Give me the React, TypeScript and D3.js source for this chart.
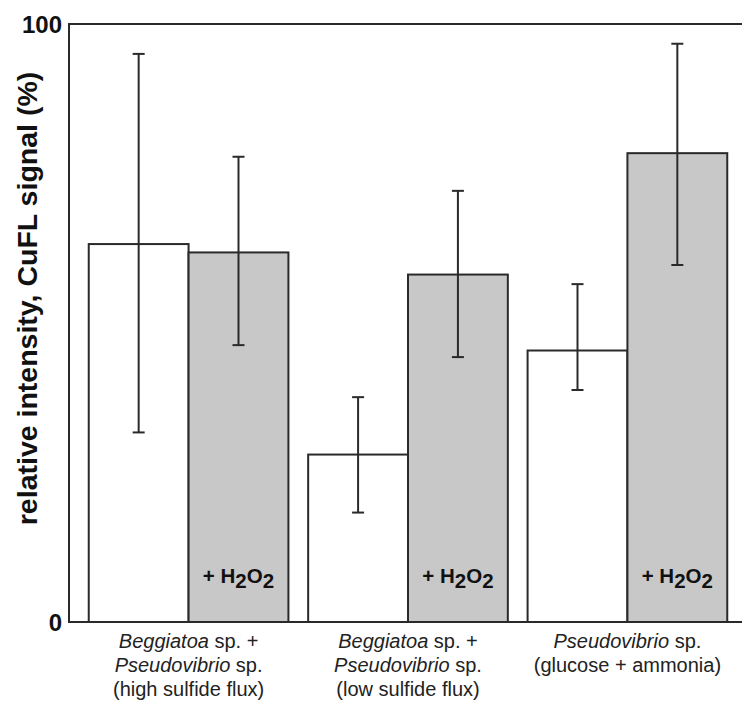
import React from "react";
import * as d3 from "d3";

const groups = ["high", "low", "glucose"];
const categoryLines: { text: string; italic: boolean }[][][] = [
  [
    [{ text: "Beggiatoa", italic: true }, { text: " sp. +", italic: false }],
    [{ text: "Pseudovibrio", italic: true }, { text: " sp.", italic: false }],
    [{ text: "(high sulfide flux)", italic: false }],
  ],
  [
    [{ text: "Beggiatoa", italic: true }, { text: " sp. +", italic: false }],
    [{ text: "Pseudovibrio", italic: true }, { text: " sp.", italic: false }],
    [{ text: "(low sulfide flux)", italic: false }],
  ],
  [
    [{ text: "Pseudovibrio", italic: true }, { text: " sp.", italic: false }],
    [{ text: "(glucose + ammonia)", italic: false }],
  ],
];
const series = ["control", "h2o2"];
const controlValues = [63.2, 28.0, 45.4];
const controlErrLow = [31.7, 18.3, 38.8];
const controlErrHigh = [95.0, 37.6, 56.5];
const h2o2Values = [61.8, 58.1, 78.4];
const h2o2ErrLow = [46.3, 44.3, 59.7];
const h2o2ErrHigh = [77.8, 72.1, 96.7];
const yTicks = [0, 100];
const yLabel = "relative intensity, CuFL signal (%)";

const W = 742;
const H = 702;
const left = 69;
const top = 24;
const bottom = 622;
const FONT = "'Liberation Sans', Arial, Helvetica, sans-serif";

export default function App() {
  const y = d3.scaleLinear().domain([0, 100]).range([bottom, top]);
  const x0 = d3
    .scaleBand<string>()
    .domain(groups)
    .range([left, 747])
    .paddingInner(0.09)
    .paddingOuter(0.09);
  const x1 = d3.scaleBand<string>().domain(series).range([0, x0.bandwidth()]);

  const data = groups.map((g, i) => ({
    g,
    i,
    bars: [
      { s: "control", v: controlValues[i], lo: controlErrLow[i], hi: controlErrHigh[i], fill: "#ffffff" },
      { s: "h2o2", v: h2o2Values[i], lo: h2o2ErrLow[i], hi: h2o2ErrHigh[i], fill: "#c8c8c8" },
    ],
  }));

  const stroke = "#2a2a2a";
  const cap = 6;

  return (
    <svg
      width={W}
      height={H}
      style={{ position: "absolute", left: 0, top: 0, background: "#fff" }}
      fontFamily={FONT}
    >
      <rect x={0} y={0} width={W} height={H} fill="#fff" />
      {data.map((d) => (
        <g key={d.g} transform={`translate(${x0(d.g)},0)`}>
          {d.bars.map((b) => (
            <rect
              key={b.s}
              x={x1(b.s)!}
              y={y(b.v)}
              width={x1.bandwidth()}
              height={y(0) - y(b.v)}
              fill={b.fill}
              stroke={stroke}
              strokeWidth={2}
            />
          ))}
        </g>
      ))}
      {data.map((d) => (
        <g key={d.g + "e"} transform={`translate(${x0(d.g)},0)`}>
          {d.bars.map((b) => {
            const cx = x1(b.s)! + x1.bandwidth() / 2;
            return (
              <g key={b.s} stroke={stroke} strokeWidth={2}>
                <line x1={cx} x2={cx} y1={y(b.lo)} y2={y(b.hi)} />
                <line x1={cx - cap} x2={cx + cap} y1={y(b.lo)} y2={y(b.lo)} />
                <line x1={cx - cap} x2={cx + cap} y1={y(b.hi)} y2={y(b.hi)} />
              </g>
            );
          })}
          <text
            x={x1("h2o2")! + x1.bandwidth() / 2}
            y={y(0) - 39}
            textAnchor="middle"
            fontWeight="bold"
            fontSize={20.5}
            fill="#111"
          >
            <tspan>+ H</tspan>
            <tspan dy={4.5}>2</tspan>
            <tspan dy={-4.5}>O</tspan>
            <tspan dy={4.5}>2</tspan>
          </text>
        </g>
      ))}
      {/* frame */}
      <g stroke={stroke} strokeWidth={2} fill="none">
        <line x1={left} x2={W} y1={y(100)} y2={y(100)} />
        <line x1={left} x2={W} y1={y(0)} y2={y(0)} />
        <line x1={left} x2={left} y1={y(100) - 1} y2={y(0) + 1} />
      </g>
      {yTicks.map((t) => (
        <text
          key={t}
          x={62}
          y={y(t) + 8.5}
          textAnchor="end"
          fontWeight="bold"
          fontSize={24}
          fill="#111"
        >
          {t}
        </text>
      ))}
      <text
        transform={`translate(37,${(527 + 70) / 2}) rotate(-90)`}
        textAnchor="middle"
        fontWeight="bold"
        fontSize={28.5}
        fill="#111"
      >
        {yLabel}
      </text>
      {categoryLines.map((lines, i) => (
        <text
          key={i}
          x={x0(groups[i])! + x0.bandwidth() / 2}
          textAnchor="middle"
          fontSize={20}
          fill="#222"
        >
          {lines.map((segs, j) => (
            <tspan key={j} x={x0(groups[i])! + x0.bandwidth() / 2} y={648 + j * 24}>
              {segs.map((s, k) => (
                <tspan key={k} fontStyle={s.italic ? "italic" : "normal"}>
                  {s.text}
                </tspan>
              ))}
            </tspan>
          ))}
        </text>
      ))}
    </svg>
  );
}
